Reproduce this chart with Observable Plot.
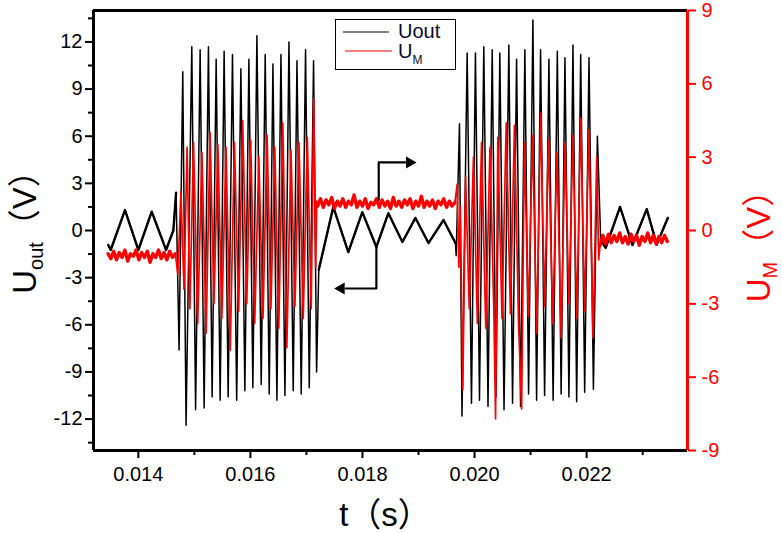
<!DOCTYPE html>
<html><head><meta charset="utf-8">
<script src="https://cdn.jsdelivr.net/npm/d3@7"></script>
<script src="https://cdn.jsdelivr.net/npm/@observablehq/plot@0.6"></script>
<style>body{margin:0;background:#fff}#chart{width:782px;height:533px}</style>
</head><body><div id="chart"></div>
<script>
// ---- axes / ticks ----
const xDomain = [0.0132, 0.0238];
const xMajorTicks = [0.014, 0.016, 0.018, 0.020, 0.022];
const xMinorTicks = [0.015, 0.017, 0.019, 0.021, 0.023];
const leftDomain = [-14, 14];
const rightDomain = [-9, 9];
const yLeftTicks = [-12, -9, -6, -3, 0, 3, 6, 9, 12];
const yLeftMinor = [-13.5, -10.5, -7.5, -4.5, -1.5, 1.5, 4.5, 7.5, 10.5, 13.5];
const yRightTicks = [-9, -6, -3, 0, 3, 6, 9];

// ---- Uout (left axis, V) vertices [t, value] ----
const uoutPre = [[0.013464,-0.92],[0.013507,-1.24],[0.013762,1.3],[0.014000,-1.24],[0.014239,1.2],[0.014495,-1.24],[0.014625,0.0],[0.014674,2.4]];
const uoutBurst1 = [[0.014727,-7.6],[0.014793,10.1],[0.014852,-12.4],[0.014954,11.7],[0.015022,-11.4],[0.015103,11.5],[0.015174,-11.3],[0.015251,11.7],[0.015317,-10.6],[0.015389,10.9],[0.015460,-10.8],[0.015531,11.4],[0.015603,-10.6],[0.015680,11.2],[0.015755,-10.8],[0.015830,10.3],[0.015901,-10.2],[0.015973,10.9],[0.016044,-10.0],[0.016116,12.4],[0.016193,-9.8],[0.016264,11.2],[0.016336,-10.4],[0.016402,10.6],[0.016473,-10.8],[0.016545,11.2],[0.016616,-10.5],[0.016688,12.0],[0.016764,-10.2],[0.016831,10.8],[0.016907,-10.4],[0.016984,11.5],[0.017050,-10.0],[0.017127,10.8],[0.017181,-9.0]];
const uoutMid = [[0.017220,-2.5],[0.017479,1.5],[0.017747,-1.37],[0.017997,1.17],[0.018248,-1.05],[0.018462,1.1],[0.018713,-0.73],[0.018945,0.8],[0.019178,-0.8],[0.019446,0.67],[0.019659,-0.8]];
const uoutBurst2 = [[0.019672,-1.6],[0.019731,6.8],[0.019776,-11.8],[0.019868,11.3],[0.019945,-11.0],[0.020016,11.3],[0.020088,-10.8],[0.020165,11.7],[0.020240,-11.2],[0.020315,11.5],[0.020383,-10.6],[0.020451,11.3],[0.020526,-11.4],[0.020612,11.8],[0.020678,-11.0],[0.020750,10.9],[0.020821,-11.2],[0.020898,11.5],[0.020964,-10.4],[0.021041,13.4],[0.021107,-10.8],[0.021178,11.5],[0.021250,-10.5],[0.021327,10.9],[0.021402,-10.8],[0.021477,11.4],[0.021545,-10.4],[0.021613,11.0],[0.021684,-10.6],[0.021756,11.8],[0.021822,-10.9],[0.021894,11.2],[0.021965,-10.3],[0.022042,11.0],[0.022121,-10.1],[0.022192,6.0]];
const uoutPost = [[0.022251,-0.6],[0.022340,-1.1],[0.022596,1.5],[0.022817,-0.92],[0.023073,1.36],[0.023251,-0.9],[0.023448,0.8]];

// ---- U_M (right axis, V) vertices [t, value] ----
const umPre = [[0.01346,-0.95],[0.01351,-1.15],[0.01356,-0.85],[0.01361,-1.2],[0.01366,-0.9],[0.01371,-1.1],[0.01376,-0.8],[0.01381,-1.25],[0.01386,-0.95],[0.01391,-1.05],[0.01396,-0.8],[0.01401,-1.2],[0.01406,-0.9],[0.01411,-1.1],[0.01416,-0.85],[0.01421,-1.3],[0.01426,-0.95],[0.01431,-1.1],[0.01436,-0.8],[0.01441,-1.15],[0.01446,-0.9],[0.01451,-1.2],[0.01456,-0.85],[0.01461,-1.1],[0.01466,-0.95]];
const umBurst1 = [[0.014705,-1.8],[0.014760,1.6],[0.014815,-2.4],[0.014870,3.4],[0.014920,-3.2],[0.014985,3.6],[0.015060,-3.8],[0.015135,3.2],[0.015210,-4.2],[0.015280,4.0],[0.015350,-3.0],[0.015420,3.5],[0.015490,-3.6],[0.015565,3.4],[0.015640,-4.9],[0.015715,3.6],[0.015790,-3.3],[0.015862,4.5],[0.015935,-3.0],[0.016005,3.7],[0.016077,-3.8],[0.016150,3.0],[0.016225,-3.6],[0.016297,3.9],[0.016366,-3.2],[0.016435,3.4],[0.016506,-4.0],[0.016578,4.4],[0.016650,-4.8],[0.016723,3.3],[0.016795,-3.1],[0.016866,3.6],[0.016943,-3.6],[0.017015,3.8],[0.017085,-3.2],[0.017130,5.4],[0.017165,-1.5],[0.017185,1.2]];
const umMid = [[0.01720,1.0],[0.01725,1.3],[0.01730,0.95],[0.01735,1.25],[0.01740,1.05],[0.01745,1.35],[0.01750,0.9],[0.01755,1.2],[0.01760,1.0],[0.01765,1.3],[0.01770,0.95],[0.01775,1.2],[0.01780,1.05],[0.01785,1.45],[0.01790,0.95],[0.01795,1.2],[0.01800,1.0],[0.01805,1.3],[0.01810,0.9],[0.01815,1.15],[0.01820,1.05],[0.01825,1.3],[0.01830,0.95],[0.01835,1.25],[0.01840,1.0],[0.01845,1.2],[0.01850,0.9],[0.01855,1.35],[0.01860,1.0],[0.01865,1.2],[0.01870,0.95],[0.01875,1.25],[0.01880,1.05],[0.01885,1.3],[0.01890,0.9],[0.01895,1.2],[0.01900,1.0],[0.01905,1.4],[0.01910,0.95],[0.01915,1.2],[0.01920,1.0],[0.01925,1.25],[0.01930,0.9],[0.01935,1.2],[0.01940,1.05],[0.01945,1.3],[0.01950,0.95],[0.01955,1.2],[0.01960,1.0],[0.01965,1.15]];
const umBurst2 = [[0.019690,1.9],[0.019720,-1.5],[0.019745,1.0],[0.019790,-6.5],[0.019840,2.2],[0.019905,-3.2],[0.019980,3.0],[0.020050,-3.8],[0.020125,3.6],[0.020200,-4.0],[0.020275,3.4],[0.020345,-3.4],[0.020375,-7.7],[0.020415,3.8],[0.020490,-3.6],[0.020565,4.4],[0.020640,-3.4],[0.020712,4.3],[0.020785,-3.8],[0.020840,-7.3],[0.020890,3.6],[0.020960,-3.5],[0.021035,3.9],[0.021110,-4.2],[0.021180,4.8],[0.021250,-3.1],[0.021320,3.7],[0.021395,-3.8],[0.021470,3.2],[0.021545,-4.4],[0.021615,3.6],[0.021685,-3.0],[0.021755,3.9],[0.021825,-3.6],[0.021895,4.6],[0.021965,-3.3],[0.022040,4.1],[0.022115,-4.4],[0.022180,3.0],[0.022215,-1.2]];
const umPost = [[0.02224,-0.6],[0.02229,-0.2],[0.02234,-0.55],[0.02239,-0.15],[0.02244,-0.5],[0.02249,-0.2],[0.02254,-0.45],[0.02259,-0.1],[0.02264,-0.5],[0.02269,-0.25],[0.02274,-0.55],[0.02279,-0.15],[0.02284,-0.45],[0.02289,-0.2],[0.02294,-0.6],[0.02299,-0.25],[0.02304,-0.45],[0.02309,-0.1],[0.02314,-0.5],[0.02319,-0.2],[0.02324,-0.55],[0.02329,-0.25],[0.02334,-0.5],[0.02339,-0.2],[0.02344,-0.45]];

// ---- annotation arrows (data units of left axis) ----
const arrowRightPath = [[0.018290,1.94],[0.018290,4.33],[0.018760,4.33]];
const arrowRightHead = [[0.018840,4.33]];
const arrowLeftPath = [[0.018248,-1.05],[0.018248,-3.69],[0.017700,-3.69]];
const arrowLeftHead = [[0.017620,-3.69]];

const k = leftDomain[1] / rightDomain[1];
const toLeft = v => v * k;
const uoutAll = [...uoutPre, ...uoutBurst1, ...uoutMid, ...uoutBurst2, ...uoutPost];
const umAll = [...umPre, ...umBurst1, ...umMid, ...umBurst2, ...umPost];
const seg = (arr, name) => arr.map(d => ({t: d[0], v: d[1], s: name}));
const uoutFlat = [...seg(uoutPre,"a"), ...seg(uoutMid,"b"), ...seg(uoutPost,"c")];
const umFlat = [...seg(umPre,"a"), ...seg(umMid,"b"), ...seg(umPost,"c")];

const RED = "#ff0000";
const FONT = "'Liberation Sans', Arial, 'Noto Sans CJK SC', sans-serif";

const svg = Plot.plot({
  width: 782, height: 533,
  marginLeft: 93, marginRight: 95, marginTop: 10, marginBottom: 83,
  x: {domain: xDomain, label: null},
  y: {domain: leftDomain, label: null},
  style: {fontFamily: FONT, fontSize: "20px", background: "#fff", color: "#000"},
  marks: [
    Plot.line(uoutAll, {x: d => d[0], y: d => d[1], stroke: "#000", strokeWidth: 1.5}),
    Plot.line(uoutFlat, {x: "t", y: "v", z: "s", stroke: "#000", strokeWidth: 2.4}),
    Plot.line(umAll, {x: d => d[0], y: d => toLeft(d[1]), stroke: RED, strokeWidth: 1.7}),
    Plot.line(umFlat, {x: "t", y: d => toLeft(d.v), z: "s", stroke: RED, strokeWidth: 3.4}),
    Plot.line(arrowRightPath, {x: d => d[0], y: d => d[1], stroke: "#000", strokeWidth: 2.2}),
    Plot.line(arrowLeftPath, {x: d => d[0], y: d => d[1], stroke: "#000", strokeWidth: 2.2}),
    Plot.dot(arrowRightHead, {x: d => d[0], y: d => d[1], symbol: "triangle", r: 4.5, fill: "#000", rotate: 90}),
    Plot.dot(arrowLeftHead, {x: d => d[0], y: d => d[1], symbol: "triangle", r: 4.5, fill: "#000", rotate: -90}),
    Plot.ruleY([leftDomain[1]], {stroke: "#000", strokeWidth: 3}),
    Plot.ruleY([leftDomain[0]], {stroke: "#000", strokeWidth: 3}),
    Plot.ruleX([xDomain[0]], {stroke: "#000", strokeWidth: 3}),
    Plot.axisX(xMajorTicks, {tickSize: 8, tickPadding: 8, strokeWidth: 2, tickFormat: d => d.toFixed(3), fontSize: 20, label: null}),
    Plot.axisX(xMinorTicks, {tickSize: 5, strokeWidth: 2, tickFormat: () => "", label: null}),
    Plot.axisY(yLeftTicks, {tickSize: 8, tickPadding: 3, strokeWidth: 2, tickFormat: d => String(d), fontSize: 20, label: null}),
    Plot.axisY(yLeftMinor, {tickSize: 5, strokeWidth: 2, tickFormat: () => "", label: null}),
    Plot.ruleX([xDomain[1]], {stroke: RED, strokeWidth: 3}),
    Plot.axisY(yRightTicks.map(toLeft), {anchor: "right", tickSize: 8, tickPadding: 6, strokeWidth: 2, stroke: RED, fill: RED, tickFormat: d => String(Math.round(d / k)), fontSize: 20, label: null})
  ]
});
document.getElementById("chart").appendChild(svg);

const s = d3.select(svg);
// legend
const lg = s.append("g").attr("font-family", FONT).attr("text-anchor", "start");
lg.append("rect").attr("x", 335.5).attr("y", 19.5).attr("width", 120).attr("height", 50).attr("fill", "#fff").attr("stroke", "#000").attr("stroke-width", 1);
lg.append("line").attr("x1", 343).attr("x2", 389).attr("y1", 32).attr("y2", 32).attr("stroke", "#000").attr("stroke-width", 1.2);
lg.append("line").attr("x1", 345).attr("x2", 392).attr("y1", 51).attr("y2", 51).attr("stroke", RED).attr("stroke-width", 1.2);
lg.append("text").attr("x", 398).attr("y", 38).attr("font-size", 20).attr("fill", "#0a0a2a").text("Uout");
const lm = lg.append("text").attr("x", 398).attr("y", 58).attr("font-size", 20).attr("fill", "#0a0a2a");
lm.append("tspan").text("U");
lm.append("tspan").attr("font-size", 12).attr("dy", 6).text("M");

// axis titles
const lt = s.append("text").attr("transform", "translate(36,224) rotate(-90)").attr("text-anchor", "middle").attr("font-family", FONT).attr("font-size", 33).attr("fill", "#000");
lt.append("tspan").text("U");
lt.append("tspan").attr("font-size", 20).attr("dy", 7).text("out");
lt.append("tspan").attr("dy", -7).text("（V）");

const rt = s.append("text").attr("transform", "translate(770,238) rotate(-90)").attr("text-anchor", "middle").attr("font-family", FONT).attr("font-size", 33).attr("fill", RED);
rt.append("tspan").text("U");
rt.append("tspan").attr("font-size", 20).attr("dy", 7).text("M");
rt.append("tspan").attr("dy", -7).text("（V）");

s.append("text").attr("x", 385).attr("y", 526).attr("text-anchor", "middle").attr("font-family", FONT).attr("font-size", 33).attr("fill", "#000").text("t（s）");
</script>
</body></html>
